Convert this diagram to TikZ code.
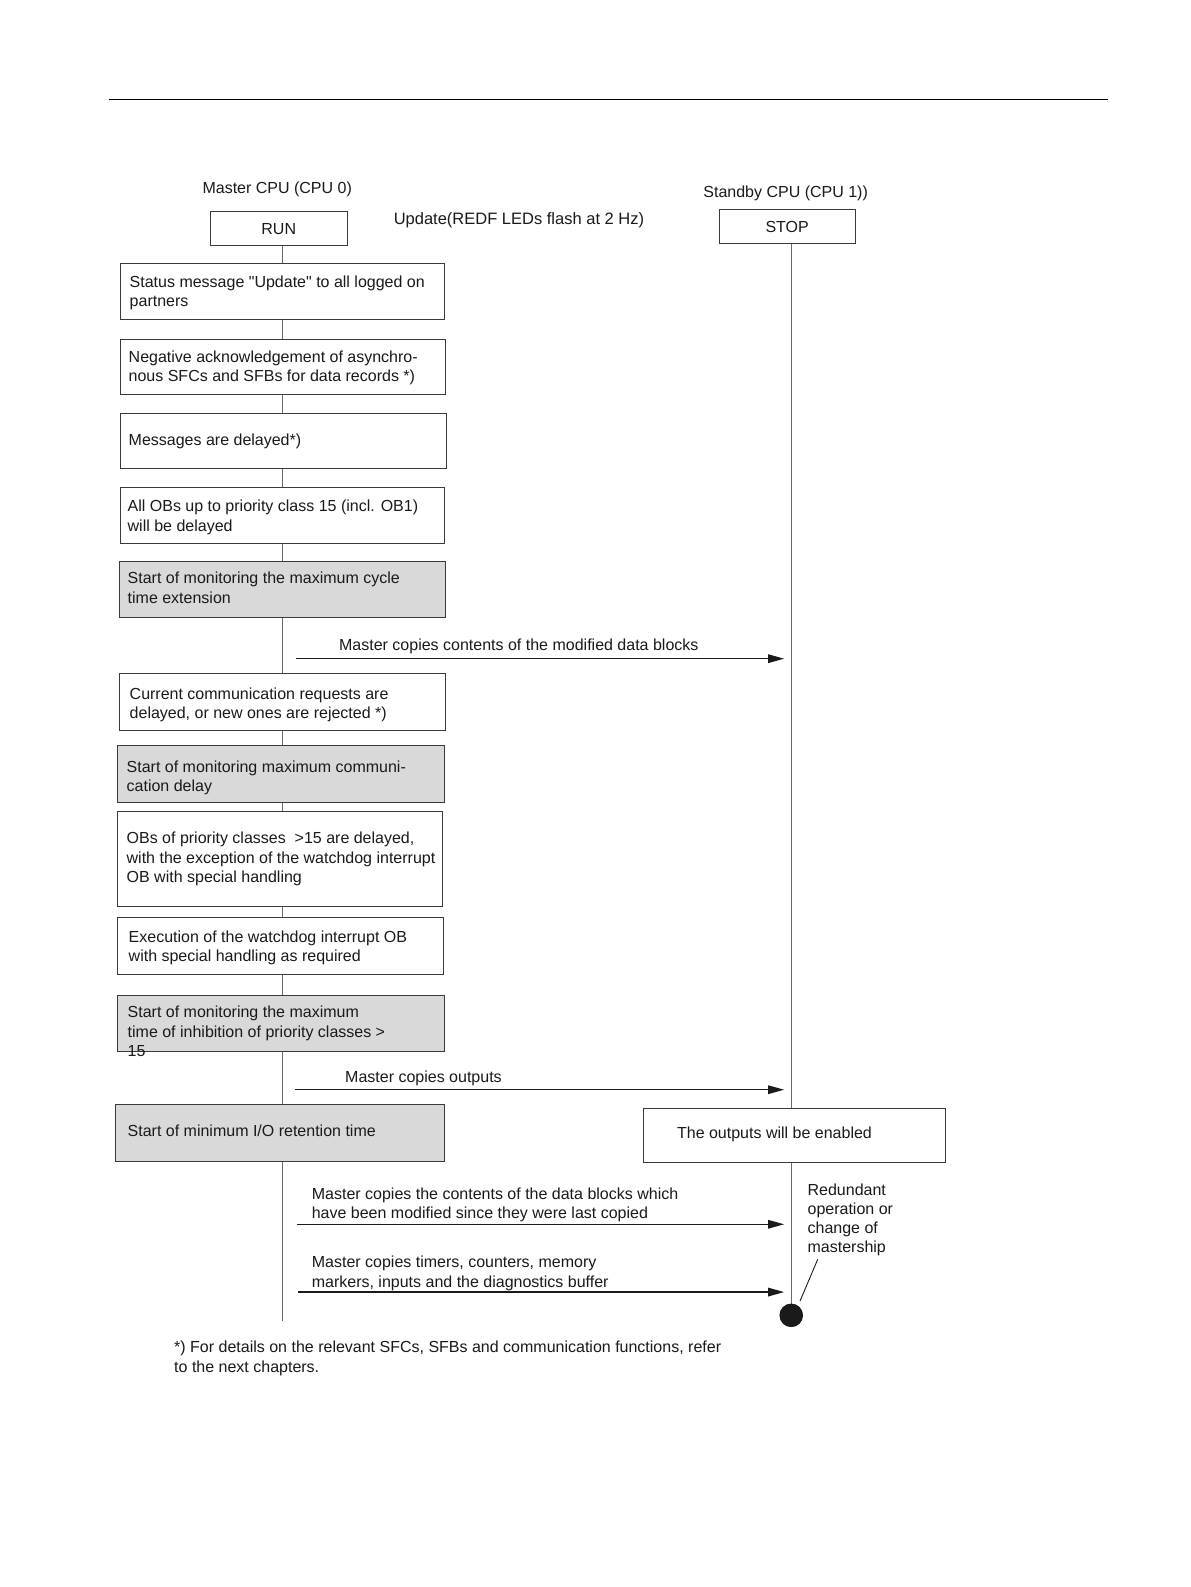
\documentclass[tikz,border=0pt]{standalone}
\usepackage{fontspec}
\setmainfont{Liberation Sans}[Ligatures=TeXOff]
\usetikzlibrary{arrows.meta,fit}
\definecolor{ink}{HTML}{1A1A1A}
\definecolor{edge}{HTML}{3A3A3A}
\definecolor{lifec}{HTML}{6A6A6A}
\definecolor{shade}{HTML}{D9D9D9}
\begin{document}
\begin{tikzpicture}[x=1.0118pt,y=-1.0118pt,
  every node/.style={font=\fontsize{16}{19.2}\selectfont, text=ink},
  box/.style={draw=edge, line width=0.9pt, fill=white, inner sep=0pt},
  gbox/.style={box, fill=shade},
  txt/.style={anchor=base west, inner sep=0pt, align=left},
  life/.style={draw=lifec, line width=0.9pt},
  msg/.style={draw=ink, line width=1.4pt, -{Triangle[length=16pt,width=8.5pt]}},
]
\useasboundingbox[fill=white] (0,0) rectangle (1177.1,1568.5);

% top rule
\coordinate (ruleL) at (108,98);
\coordinate (ruleR) at (1095,98);
\draw[line width=1pt, black] (ruleL) -- (ruleR);

% headers
\node[txt] (mcpu) at (200,191) {Master CPU (CPU 0)};
\node[txt] (scpu) at (695,195.4) {Standby CPU (CPU 1))};
\node[txt, font=\fontsize{16.5}{19.2}\selectfont] (upd) at (389,222) {Update(REDF LEDs flash at 2 Hz)};

% lifelines
\coordinate (L0) at (279,243);
\coordinate (L1) at (279,1306);
\coordinate (R0) at (782,241);
\node[circle, fill=ink, inner sep=0pt, minimum size=23.3pt] (dot) at (782,1300) {};
\draw[life] (L0) -- (L1);
\draw[life] (R0) -- (dot.center);
\node[circle, fill=ink, inner sep=0pt, minimum size=23.3pt] (dot2) at (dot.center) {};

% state boxes
\node[box, fit={(208,209) (343,243)}] (run) {};
\node[inner sep=0pt] (trun) at (run.center) {RUN};
\node[box, fit={(711,207) (845,241)}] (stop) {};
\node[inner sep=0pt] (tstop) at (stop.center) {STOP};

% left column (text anchors are at the baseline of the last line)
\node[box, fit={(119,260) (439,316)}] (b1) {};
\node[txt] (t1) at (128,303) {Status message "Update" to all logged on\\partners};

\node[box, fit={(119,335) (440,390)}] (b2) {};
\node[txt] (t2) at (127,377) {Negative acknowledgement of asynchro-\\nous SFCs and SFBs for data records *)};

\node[box, fit={(119,409) (441,463)}] (b3) {};
\node[txt] (t3) at (127,440) {Messages are delayed*)};

\node[box, fit={(119,482) (439,537)}] (b4) {};
\node[txt] (t4) at (126,525) {All OBs up to priority class 15 (incl. OB1)\\will be delayed};

\node[gbox, fit={(118,555) (440,610)}] (b5) {};
\node[txt] (t5) at (126,596) {Start of monitoring the maximum cycle\\time extension};

\node[box, fit={(118,666) (440,722)}] (b6) {};
\node[txt] (t6) at (128,710) {Current communication requests are\\delayed, or new ones are rejected *)};

\node[gbox, fit={(116,737) (439,793)}] (b7) {};
\node[txt] (t7) at (125,782) {Start of monitoring maximum communi-\\cation delay};

\node[box, fit={(116,802) (437,896)}] (b8) {};
\node[txt] (t8) at (125,872) {OBs of priority classes~ >15 are delayed,\\with the exception of the watchdog interrupt\\OB with special handling};

\node[box, fit={(116,907) (438,963)}] (b9) {};
\node[txt] (t9) at (127,950) {Execution of the watchdog interrupt OB\\with special handling as required};

\node[gbox, fit={(116,984) (439,1039)}] (b10) {};
\node[txt] (t10) at (126,1044) {Start of monitoring the maximum\\time of inhibition of priority classes >\\15};

\node[gbox, fit={(114,1092) (439,1148)}] (b11) {};
\node[txt] (t11) at (126,1123) {Start of minimum I/O retention time};

% right box
\node[box, fit={(636,1096) (934,1149)}] (outb) {};
\node[txt] (tout) at (669,1125) {The outputs will be enabled};

% messages
\coordinate (m1s) at (293,651);  \coordinate (m1e) at (775,651);
\draw[msg] (m1s) -- (m1e);
\node[txt] (l1) at (335,643) {Master copies contents of the modified data blocks};

\coordinate (m2s) at (292,1077); \coordinate (m2e) at (775,1077);
\draw[msg] (m2s) -- (m2e);
\node[txt] (l2) at (341,1070) {Master copies outputs};

\coordinate (m3s) at (294,1210); \coordinate (m3e) at (775,1210);
\draw[msg] (m3s) -- (m3e);
\node[txt] (l3) at (308,1204) {Master copies the contents of the data blocks which\\have been modified since they were last copied};

\coordinate (m4s) at (295,1277); \coordinate (m4e) at (775,1277);
\draw[msg] (m4s) -- (m4e);
\node[txt] (l4) at (308,1272) {Master copies timers, counters, memory\\markers, inputs and the diagnostics buffer};

% annotation
\node[txt] (red) at (798,1238) {Redundant\\operation or\\change of\\mastership};
\coordinate (s0) at (808.2,1244.6);
\coordinate (s1) at (790.7,1285.8);
\draw[draw=ink, line width=0.9pt] (s0) -- (s1);

% footnote
\node[txt] (foot) at (172,1356) {*) For details on the relevant SFCs, SFBs and communication functions, refer\\to the next chapters.};
\end{tikzpicture}
\end{document}
